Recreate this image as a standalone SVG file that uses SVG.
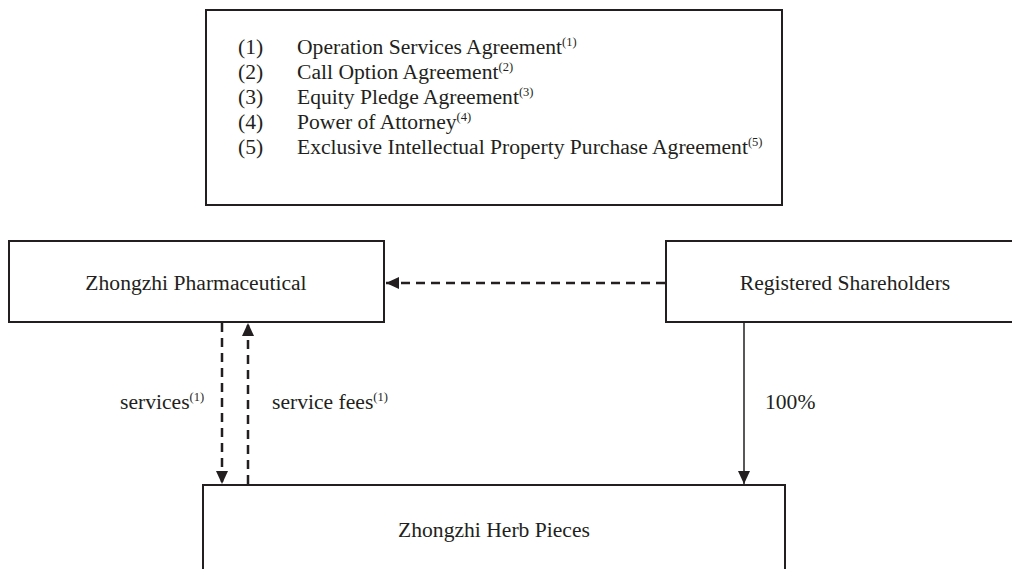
<svg xmlns="http://www.w3.org/2000/svg" width="1012" height="569" viewBox="0 0 1012 569">
<style>
text{font-family:"Liberation Serif","Times New Roman",serif;font-size:21.6px;fill:#231f20}
.sup{font-size:12.5px}
.box{fill:#fff;stroke:#231f20;stroke-width:2}
.dash{fill:none;stroke:#231f20;stroke-width:2.5;stroke-dasharray:9 6}
.solid{fill:none;stroke:#231f20;stroke-width:1.5}
.c{text-anchor:middle}
</style>
<defs>
<marker id="ah" viewBox="0 0 13 12" refX="13" refY="6" markerWidth="13" markerHeight="12" markerUnits="userSpaceOnUse" orient="auto">
<path d="M0,0 L13,6 L0,12 z" fill="#231f20"/>
</marker>
</defs>
<rect width="1012" height="569" fill="#fff"/>
<g id="legend">
<rect class="box" x="206" y="10" width="576" height="195"/>
<text x="238" y="54">(1)</text><text x="297" y="54">Operation Services Agreement<tspan class="sup" dy="-8">(1)</tspan></text>
<text x="238" y="79">(2)</text><text x="297" y="79">Call Option Agreement<tspan class="sup" dy="-8">(2)</tspan></text>
<text x="238" y="104">(3)</text><text x="297" y="104">Equity Pledge Agreement<tspan class="sup" dy="-8">(3)</tspan></text>
<text x="238" y="129">(4)</text><text x="297" y="129">Power of Attorney<tspan class="sup" dy="-8">(4)</tspan></text>
<text x="238" y="154">(5)</text><text x="297" y="154">Exclusive Intellectual Property Purchase Agreement<tspan class="sup" dy="-8">(5)</tspan></text>
</g>
<g id="pharma">
<rect class="box" x="9" y="241" width="375" height="81"/>
<text class="c" x="196" y="290">Zhongzhi Pharmaceutical</text>
</g>
<g id="shareholders">
<rect class="box" x="666" y="241" width="360" height="81"/>
<text class="c" x="845" y="290">Registered Shareholders</text>
</g>
<g id="herb">
<rect class="box" x="203" y="485" width="582" height="100"/>
<text class="c" x="494" y="537">Zhongzhi Herb Pieces</text>
</g>
<g id="connectors">
<line class="dash" x1="665" y1="283" x2="386" y2="283" marker-end="url(#ah)"/>
<line class="dash" x1="222" y1="323" x2="222" y2="484" marker-end="url(#ah)"/>
<line class="dash" x1="248" y1="484" x2="248" y2="323" marker-end="url(#ah)"/>
<line class="solid" x1="744" y1="322" x2="744" y2="484" marker-end="url(#ah)"/>
<text x="120" y="409">services<tspan class="sup" dy="-8">(1)</tspan></text>
<text x="272" y="409">service fees<tspan class="sup" dy="-8">(1)</tspan></text>
<text x="765" y="409">100%</text>
</g>
</svg>
